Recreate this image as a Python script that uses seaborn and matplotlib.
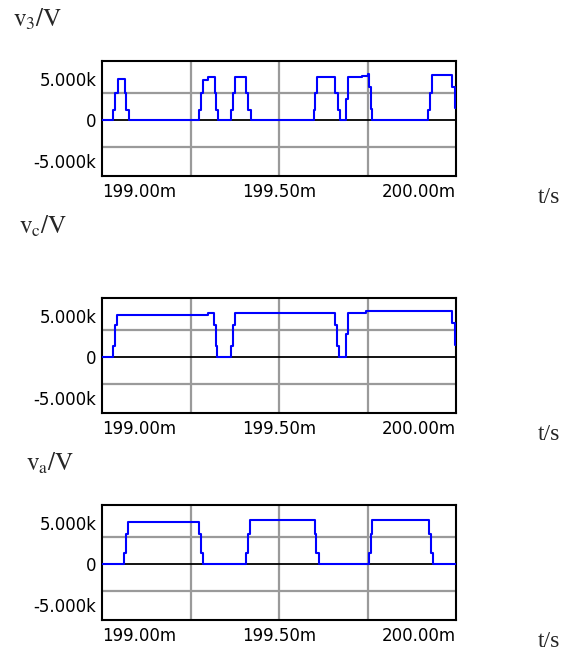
import matplotlib
matplotlib.use('Agg')
import matplotlib.pyplot as plt
import seaborn as sns

# time of each level change in ms, and the level (V) held from there on
t_v3 = [199.0, 199.0319, 199.0381, 199.0438, 199.0636, 199.0678, 199.0749,
        199.2729, 199.2791, 199.2842, 199.2994, 199.3178, 199.3234, 199.3277,
        199.3658, 199.3706, 199.3766, 199.4068, 199.4124, 199.4203,
        199.5980, 199.6031, 199.6079, 199.6590, 199.6661, 199.6712,
        199.6879, 199.6955, 199.7175, 199.7345, 199.7500, 199.7542, 199.7593, 199.7641,
        199.9215, 199.9266, 199.9314, 199.9900, 199.9972, 200.0]
v_v3 = [0, 1250, 3300, 5050, 3300, 1250, 0,
        1250, 3300, 4900, 5300, 3300, 1250, 0,
        1250, 3300, 5300, 3300, 1250, 0,
        1250, 3300, 5300, 3300, 1250, 0,
        2600, 5200, 5300, 5400, 5600, 4000, 1400, 0,
        1250, 3300, 5500, 4050, 1450, 1450]

t_vc = [199.0, 199.0319, 199.0370, 199.0421, 199.2983, 199.3164, 199.3215, 199.3246,
        199.3653, 199.3703, 199.3754, 199.6590, 199.6650, 199.6701,
        199.6893, 199.6944, 199.7452, 199.9887, 199.9972, 200.0]
v_vc = [0, 1340, 3900, 5100, 5350, 3900, 1340, 0,
        1340, 3900, 5400, 3900, 1340, 0,
        2800, 5400, 5600, 4100, 1450, 1450]

t_va = [199.0, 199.0624, 199.0675, 199.0746, 199.2746, 199.2802, 199.2859,
        199.4079, 199.4130, 199.4181, 199.6003, 199.6059, 199.6116,
        199.7534, 199.7585, 199.7636, 199.9232, 199.9288, 199.9345, 200.0]
v_va = [0, 1300, 3650, 5080, 3650, 1300, 0,
        1300, 3650, 5370, 3650, 1300, 0,
        1300, 3650, 5370, 3650, 1300, 0, 0]

x_ticks = [199.0, 199.5, 200.0]
x_labels = ['199.00m', '199.50m', '200.00m']
y_ticks = [-5000, 0, 5000]
y_labels = ['-5.000k', '0', '5.000k']
x_grid = [199.25, 199.5, 199.75]
y_grid = [-3300, 3300]

sns.set_style('white')
plt.rcParams['font.family'] = ['DejaVu Sans']
plt.rcParams['mathtext.fontset'] = 'stix'

W, H = 564, 652
fig = plt.figure(figsize=(W / 100, H / 100), dpi=100)

panels = [
    (t_v3, v_v3, 61, r'$\mathrm{v_3/V}$', 13, 26, 203),
    (t_vc, v_vc, 298, r'$\mathrm{v_c/V}$', 19, 233, 440),
    (t_va, v_va, 505, r'$\mathrm{v_a/V}$', 26, 470, 647),
]

for t, v, top, name, lx, ly, ty in panels:
    ax = fig.add_axes([102 / W, 1 - (top + 115) / H, 354 / W, 115 / H])
    ax.set_axisbelow(True)
    ax.axhline(0, color='black', lw=1.3, zorder=1)
    sns.lineplot(x=t, y=v, ax=ax, color='#0000ff', lw=1.5,
                 drawstyle='steps-post', estimator=None, zorder=3)
    ax.set_xlim(199.0, 200.0)
    ax.set_ylim(-6830, 7195)
    ax.xaxis.remove_overlapping_locs = False
    ax.set_xticks(x_ticks)
    ax.set_xticklabels(x_labels)
    ax.set_xticks(x_grid, minor=True)
    ax.set_yticks(y_ticks)
    ax.set_yticklabels(y_labels)
    ax.set_yticks(y_grid, minor=True)
    ax.grid(which='minor', color='#9a9a9a', lw=1.6)
    ax.grid(which='major', visible=False)
    ax.tick_params(which='both', length=0, labelsize=12, labelcolor='black')
    ax.tick_params(axis='x', pad=5)
    ax.tick_params(axis='y', pad=4)
    xl = ax.get_xticklabels()
    xl[0].set_ha('left')
    xl[-1].set_ha('right')
    for s in ax.spines.values():
        s.set_color('black')
        s.set_linewidth(1.5)
    ax.set_xlabel('')
    ax.set_ylabel('')
    fig.text(lx / W, 1 - ly / H, name, fontsize=18, va='baseline', ha='left')
    fig.text(538 / W, 1 - ty / H, 't/s', fontsize=17, va='baseline', ha='left',
             family='Liberation Serif')

fig.savefig('out.png', dpi=100)
